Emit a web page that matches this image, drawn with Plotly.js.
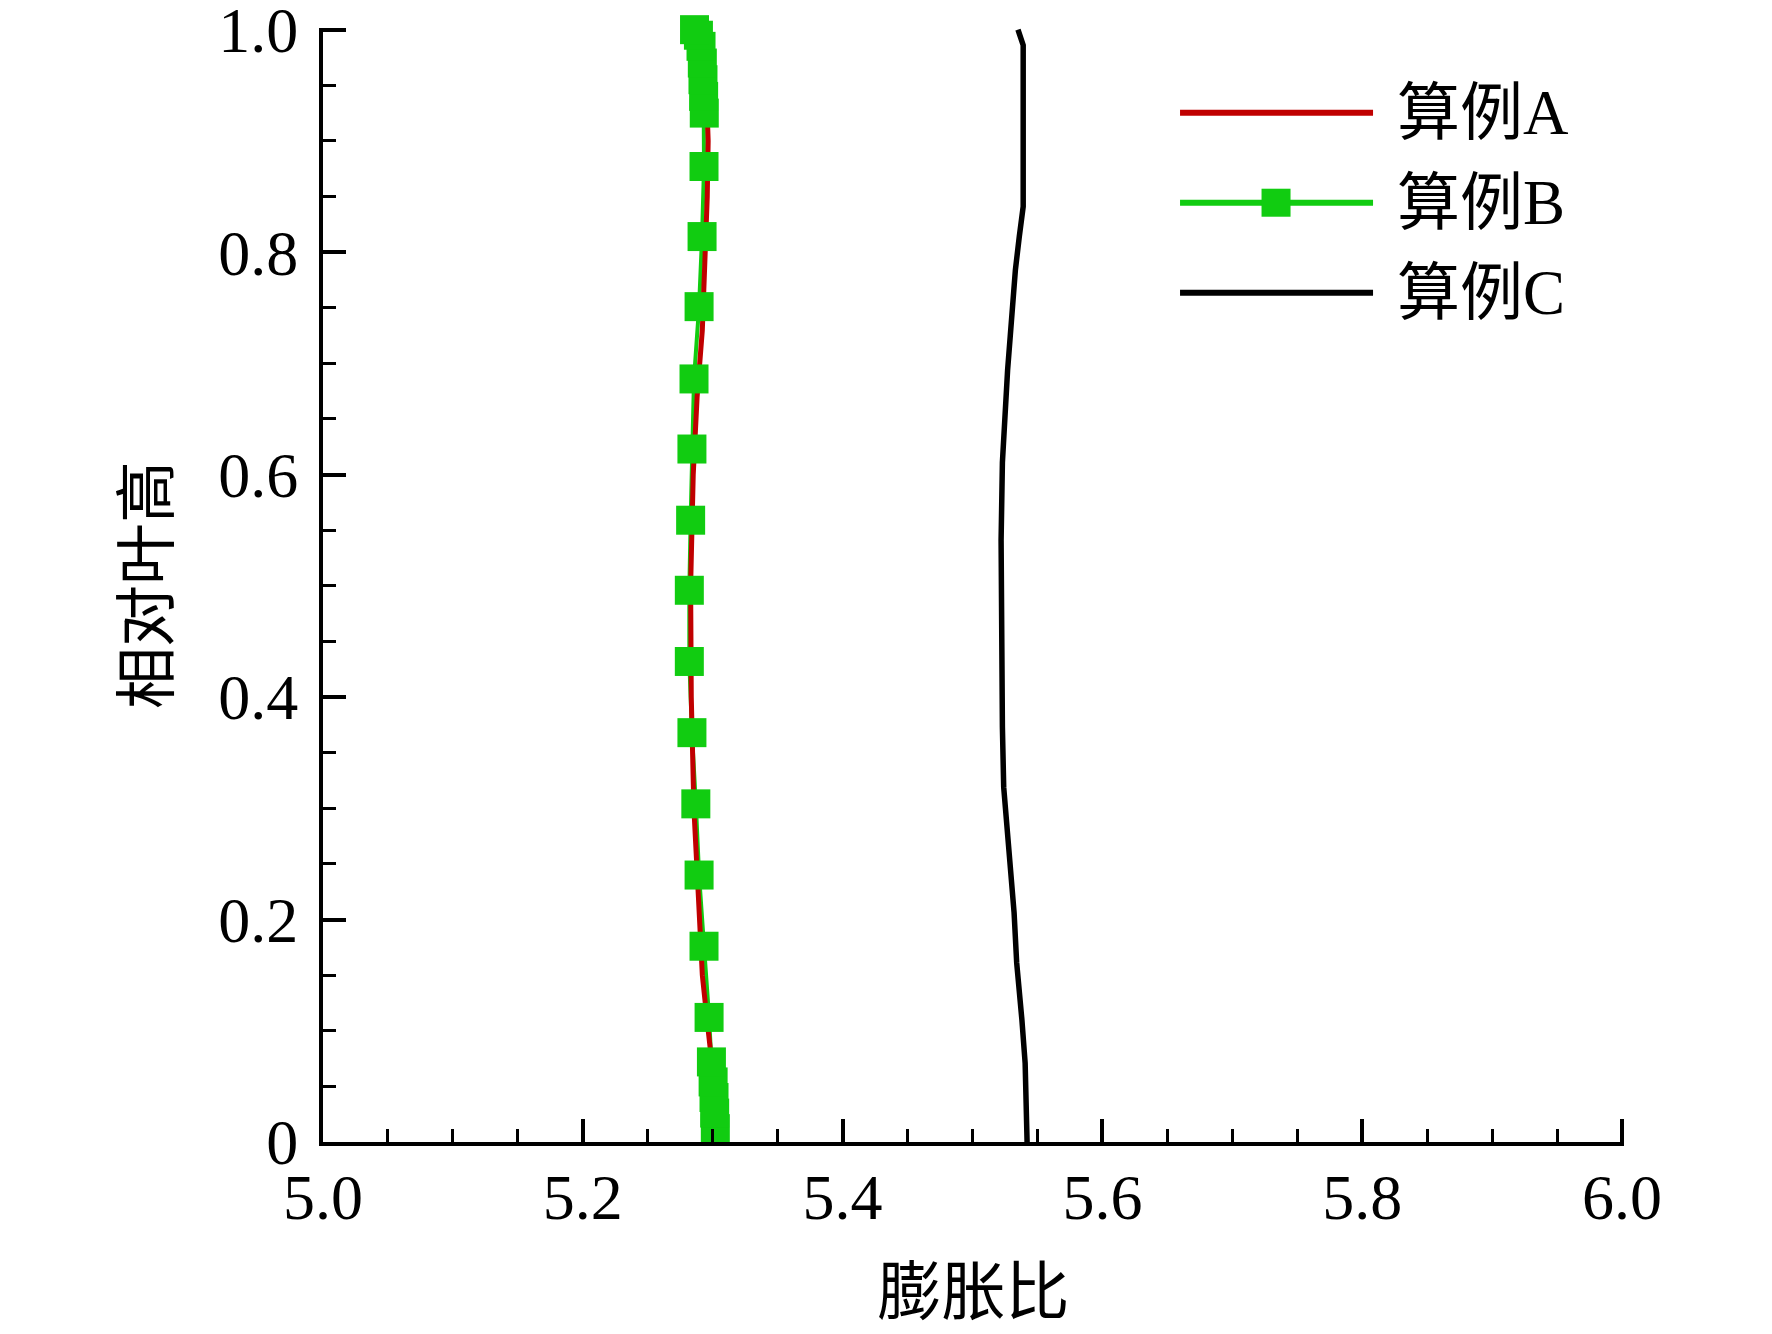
<!DOCTYPE html>
<html>
<head>
<meta charset="utf-8">
<script src="https://cdn.plot.ly/plotly-3.0.1.min.js"></script>
<style>
  html, body { margin: 0; padding: 0; background: #fff; }
  #chart { width: 1772px; height: 1334px; }
</style>
</head>
<body>
<div id="chart"></div>
<script>
// 相对叶高 vs 膨胀比, three cases
const heightA = [0, 0.05, 0.085, 0.11, 0.15, 0.22, 0.26, 0.3, 0.4, 0.5, 0.6, 0.67, 0.73, 0.79, 0.85, 0.9, 0.95, 1.0];
const ratioA  = [5.302, 5.300, 5.298, 5.2956, 5.292, 5.289, 5.2868, 5.2855, 5.2835, 5.283, 5.285, 5.288, 5.292, 5.294, 5.2958, 5.2965, 5.295, 5.290];

const heightB = [0.012, 0.026, 0.040, 0.054, 0.072, 0.112, 0.176, 0.240, 0.304, 0.368, 0.432, 0.496, 0.559, 0.623, 0.686, 0.751, 0.814, 0.877, 0.925, 0.94, 0.955, 0.97, 0.985, 0.995, 1.0];
const ratioB  = [5.302, 5.3015, 5.301, 5.3003, 5.299, 5.2972, 5.2933, 5.2895, 5.287, 5.284, 5.282, 5.282, 5.283, 5.284, 5.2856, 5.2895, 5.2918, 5.2933, 5.2935, 5.293, 5.2925, 5.292, 5.291, 5.289, 5.286];

const heightC = [0, 0.049, 0.071, 0.110, 0.161, 0.206, 0.245, 0.290, 0.319, 0.373, 0.431, 0.505, 0.541, 0.611, 0.664, 0.694, 0.724, 0.755, 0.784, 0.814, 0.841, 0.949, 0.986, 1.0];
const ratioC  = [5.542, 5.541, 5.5405, 5.538, 5.534, 5.532, 5.529, 5.5265, 5.524, 5.523, 5.5227, 5.522, 5.522, 5.523, 5.525, 5.527, 5.529, 5.531, 5.533, 5.536, 5.539, 5.539, 5.539, 5.535];

const caseNames = ['算例A', '算例B', '算例C'];
const xTickVals = [5.0, 5.2, 5.4, 5.6, 5.8, 6.0];
const xTickText = ['5.0', '5.2', '5.4', '5.6', '5.8', '6.0'];
const yTickVals = [0, 0.2, 0.4, 0.6, 0.8, 1.0];
const yTickText = ['0', '0.2', '0.4', '0.6', '0.8', '1.0'];

const RED = '#c00000';
const GREEN = '#11cc11';
const BLACK = '#000000';
const FONT = "'Liberation Serif', 'Noto Sans CJK SC', serif";

// page pixels: x 5.0 -> 323, 6.0 -> 1622; y 0 -> 1142, 1.0 -> 30
// ranges run a hair past the last ticks so plotly keeps the end tick marks
const W = 1772, H = 1334;
const L = 323, B = 1142;
const xRange = [5.0, 6.0015];
const yRange = [0, 1.0015];
const plotW = 1299 * (xRange[1] - xRange[0]);
const plotH = 1112 * (yRange[1] - yRange[0]);
const px = x => (x - L) / plotW;
const py = y => (B - y) / plotH;

const traces = [
    { x: ratioB, y: heightB, mode: 'lines', line: { color: GREEN, width: 4 }, showlegend: false, hoverinfo: 'skip' },
    { x: ratioA, y: heightA, name: caseNames[0], mode: 'lines', line: { color: RED, width: 5 }, showlegend: false },
    { x: ratioB, y: heightB, name: caseNames[1], mode: 'markers', cliponaxis: false,
      marker: { symbol: 'square', size: 29, color: GREEN, line: { width: 0 } }, showlegend: false },
    { x: ratioC, y: heightC, name: caseNames[2], mode: 'lines', line: { color: BLACK, width: 5.5 }, showlegend: false }
];

// hand-made legend, long sample lines like the original
const legendRows = [113, 203, 293];
const legendColors = [RED, GREEN, BLACK];
const shapes = [];
const annotations = [];
legendRows.forEach((yy, i) => {
    shapes.push({ type: 'line', xref: 'paper', yref: 'paper',
        x0: px(1180), x1: px(1373), y0: py(yy), y1: py(yy),
        line: { color: legendColors[i], width: 6 } });
    annotations.push({ xref: 'paper', yref: 'paper', x: px(1395), y: py(yy),
        xanchor: 'left', yanchor: 'middle', showarrow: false, text: caseNames[i],
        font: { family: FONT, size: 63, color: '#000' } });
});
shapes.push({ type: 'rect', xref: 'paper', yref: 'paper',
    x0: px(1276 - 14.5), x1: px(1276 + 14.5), y0: py(203 + 14), y1: py(203 - 14),
    fillcolor: GREEN, line: { width: 0 } });

const axisCommon = {
    showgrid: false, zeroline: false, showline: true, linecolor: '#000', linewidth: 4,
    ticks: 'inside', ticklen: 23, tickwidth: 4, tickcolor: '#000',
    minor: { ticks: 'inside', ticklen: 13, tickwidth: 3, tickcolor: '#000', showgrid: false },
    tickfont: { family: FONT, size: 64, color: '#000' },
    ticklabeloverflow: 'allow',
    mirror: false, fixedrange: true
};

const layout = {
    width: W, height: H,
    margin: { l: L, r: W - L - plotW, t: B - plotH, b: H - B, pad: 0 },
    paper_bgcolor: '#fff', plot_bgcolor: '#fff',
    font: { family: FONT, color: '#000' },
    showlegend: false,
    xaxis: Object.assign({}, axisCommon, {
        range: xRange, tickmode: 'array', tickvals: xTickVals, ticktext: xTickText,
        minor: Object.assign({}, axisCommon.minor, { dtick: 0.05, tick0: 5.0 }),
        ticklabelstandoff: -4,
        title: { text: '膨胀比', font: { family: FONT, size: 64, color: '#000' }, standoff: 38 }
    }),
    yaxis: Object.assign({}, axisCommon, {
        range: yRange, tickmode: 'array', tickvals: yTickVals, ticktext: yTickText,
        minor: Object.assign({}, axisCommon.minor, { dtick: 0.05, tick0: 0 }),
        ticklabelstandoff: 8,
        title: { text: '相对叶高', font: { family: FONT, size: 62, color: '#000' }, standoff: 30 }
    }),
    shapes, annotations
};

Plotly.newPlot('chart', traces, layout, { displayModeBar: false, staticPlot: true });
</script>
</body>
</html>
